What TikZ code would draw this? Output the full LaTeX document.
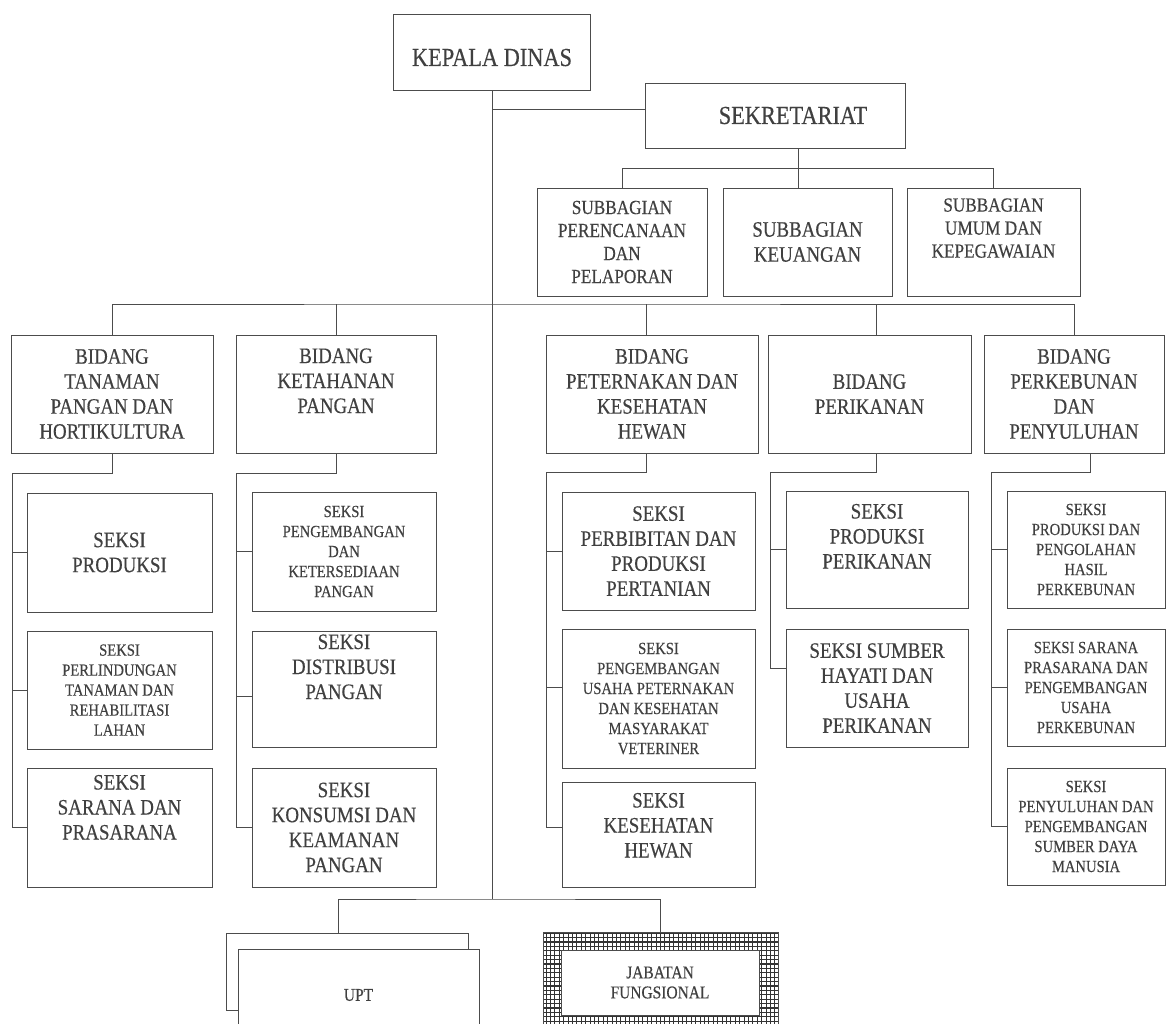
\documentclass[tikz,border=0pt]{standalone}
\usepackage{fontspec}
\setmainfont{Liberation Serif}[FakeStretch=0.86, FakeBold=0.4]
\newcommand\naik[2]{\raisebox{#1}[\height][\depth]{\begin{tabular}{@{}c@{}}#2\end{tabular}}}

\begin{document}
\begin{tikzpicture}[x=1pt, y=-1pt,
  kotak/.style={draw=black!70, line width=0.9pt, align=center, inner sep=2pt, text=black!75},
  garis/.style={draw=black!70, line width=0.9pt},
  hurufL/.style={font=\fontsize{26}{30}\selectfont},
  hurufM/.style={font=\fontsize{22}{25}\selectfont},
  hurufS/.style={font=\fontsize{20}{23}\selectfont},
  hurufXS/.style={font=\fontsize{17}{20}\selectfont},
  hurufJ/.style={font=\fontsize{18}{20}\selectfont},
  kisi/.style={path picture={\draw[black!80, line width=1.1pt, step=4.4pt]
      (path picture bounding box.south west) grid (path picture bounding box.north east);}}]
  \useasboundingbox (0,0) rectangle (1169,1024);
  \clip (0,0) rectangle (1169,1024);

  % Kepala dinas and sekretariat
  \node[kotak, hurufL, minimum width=197, minimum height=76] (kadis) at (492,52) {\naik{-8pt}{KEPALA DINAS}};
  \node[kotak, hurufL, minimum width=260, minimum height=65] (sekre) at (775,115.5) {\hspace*{36pt}SEKRETARIAT};

  % Subbagian
  \node[kotak, hurufS, minimum width=170, minimum height=108] (sbPer) at (622,242) {SUBBAGIAN\\PERENCANAAN\\DAN\\PELAPORAN};
  \node[kotak, hurufM, minimum width=169, minimum height=108] (sbKeu) at (807.5,242) {SUBBAGIAN\\KEUANGAN};
  \node[kotak, hurufS, minimum width=173, minimum height=108] (sbUmum) at (993.5,242) {\naik{12pt}{SUBBAGIAN\\UMUM DAN\\KEPEGAWAIAN}};

  % Bidang
  \node[kotak, hurufM, minimum width=202, minimum height=118] (bTan) at (112,394) {BIDANG\\TANAMAN\\PANGAN DAN\\HORTIKULTURA};
  \node[kotak, hurufM, minimum width=200, minimum height=118] (bKet) at (336,394) {\naik{11pt}{BIDANG\\KETAHANAN\\PANGAN}};
  \node[kotak, hurufM, minimum width=212, minimum height=118] (bPet) at (652,394) {BIDANG\\PETERNAKAN DAN\\KESEHATAN\\HEWAN};
  \node[kotak, hurufM, minimum width=203, minimum height=118] (bIkan) at (869.5,394) {BIDANG\\PERIKANAN};
  \node[kotak, hurufM, minimum width=180, minimum height=118] (bKebun) at (1074,394) {BIDANG\\PERKEBUNAN\\DAN\\PENYULUHAN};

  % Seksi under tanaman pangan
  \node[kotak, hurufM, minimum width=185, minimum height=119] (sTan1) at (119.5,552.5) {SEKSI\\PRODUKSI};
  \node[kotak, hurufXS, minimum width=185, minimum height=118] (sTan2) at (119.5,690) {SEKSI\\PERLINDUNGAN\\TANAMAN DAN\\REHABILITASI\\LAHAN};
  \node[kotak, hurufM, minimum width=185, minimum height=119] (sTan3) at (119.5,827.5) {\naik{18pt}{SEKSI\\SARANA DAN\\PRASARANA}};

  % Seksi under ketahanan pangan
  \node[kotak, hurufXS, minimum width=184, minimum height=119] (sKet1) at (344,551.5) {SEKSI\\PENGEMBANGAN\\DAN\\KETERSEDIAAN\\PANGAN};
  \node[kotak, hurufM, minimum width=184, minimum height=116] (sKet2) at (344,689) {\naik{20pt}{SEKSI\\DISTRIBUSI\\PANGAN}};
  \node[kotak, hurufM, minimum width=184, minimum height=119] (sKet3) at (344,827.5) {SEKSI\\KONSUMSI DAN\\KEAMANAN\\PANGAN};

  % Seksi under peternakan
  \node[kotak, hurufM, minimum width=193, minimum height=118] (sPet1) at (658.5,551) {SEKSI\\PERBIBITAN DAN\\PRODUKSI\\PERTANIAN};
  \node[kotak, hurufXS, minimum width=193, minimum height=139] (sPet2) at (658.5,698.5) {SEKSI\\PENGEMBANGAN\\USAHA PETERNAKAN\\DAN KESEHATAN\\MASYARAKAT\\VETERINER};
  \node[kotak, hurufM, minimum width=193, minimum height=105] (sPet3) at (658.5,834.5) {\naik{7pt}{SEKSI\\KESEHATAN\\HEWAN}};

  % Seksi under perikanan
  \node[kotak, hurufM, minimum width=182, minimum height=117] (sIkan1) at (877,549.5) {\naik{11pt}{SEKSI\\PRODUKSI\\PERIKANAN}};
  \node[kotak, hurufM, minimum width=182, minimum height=118] (sIkan2) at (877,688) {SEKSI SUMBER\\HAYATI DAN\\USAHA\\PERIKANAN};

  % Seksi under perkebunan
  \node[kotak, hurufXS, minimum width=158, minimum height=117] (sKebun1) at (1086,549.5) {SEKSI\\PRODUKSI DAN\\PENGOLAHAN\\HASIL\\PERKEBUNAN};
  \node[kotak, hurufXS, minimum width=158, minimum height=117] (sKebun2) at (1086,687.5) {SEKSI SARANA\\PRASARANA DAN\\PENGEMBANGAN\\USAHA\\PERKEBUNAN};
  \node[kotak, hurufXS, minimum width=158, minimum height=117] (sKebun3) at (1086,826.5) {SEKSI\\PENYULUHAN DAN\\PENGEMBANGAN\\SUMBER DAYA\\MANUSIA};

  % UPT and jabatan fungsional
  \node[kotak, minimum width=242, minimum height=77] (uptBelakang) at (347,971.5) {};
  \node[kotak, hurufJ, fill=white, minimum width=241, minimum height=92] (upt) at (358.5,995) {UPT};
  \node[kotak, kisi, minimum width=235, minimum height=108] (jabLuar) at (660.5,986) {};
  \node[kotak, hurufJ, fill=white, minimum width=198, minimum height=65] (jab) at (660,982.5) {JABATAN\\FUNGSIONAL};

  % Junctions
  \coordinate (sambungSek) at (492,109);
  \coordinate (garisSub) at (622,168);
  \coordinate (garisBidang) at (492,304);
  \coordinate (garisBawah) at (492,899);
  \coordinate (tTan) at (12,473);
  \coordinate (tKet) at (236,473);
  \coordinate (tPet) at (546,472);
  \coordinate (tIkan) at (770,472);
  \coordinate (tKebun) at (991,472);

  % Lines from the top
  \draw[garis] (kadis.south) -- (garisBawah);
  \draw[garis] (sambungSek) -- (sambungSek -| sekre.west);
  \draw[garis] (sbPer.north) -- (garisSub) -| (sbUmum.north);
  \draw[garis] ([xshift=23]sekre.south) -- ([xshift=23]sekre.south |- sbKeu.north);

  % Line to the bidang
  \draw[garis] (bTan.north) |- (garisBidang) -| (bKebun.north);
  \draw[garis] (bKet.north) -- (bKet.north |- garisBidang);
  \draw[garis] ([xshift=-6]bPet.north) -- ([xshift=-6]bPet.north |- garisBidang);
  \draw[garis] ([xshift=7]bIkan.north) -- ([xshift=7]bIkan.north |- garisBidang);

  % Bidang to seksi
  \draw[garis] (bTan.south) |- (tTan) |- (sTan3.west);
  \draw[garis] (sTan1.west) -- (sTan1.west -| tTan);
  \draw[garis] (sTan2.west) -- (sTan2.west -| tTan);
  \draw[garis] (bKet.south) |- (tKet) |- (sKet3.west);
  \draw[garis] (sKet1.west) -- (sKet1.west -| tKet);
  \draw[garis] ([yshift=-7]sKet2.west) -- ([yshift=-7]sKet2.west -| tKet);
  \draw[garis] ([xshift=-6]bPet.south) |- (tPet) |- ([yshift=7]sPet3.west);
  \draw[garis] (sPet1.west) -- (sPet1.west -| tPet);
  \draw[garis] ([yshift=11.5]sPet2.west) -- ([yshift=11.5]sPet2.west -| tPet);
  \draw[garis] ([xshift=7]bIkan.south) |- (tIkan) |- ([yshift=20]sIkan2.west);
  \draw[garis] (sIkan1.west) -- (sIkan1.west -| tIkan);
  \draw[garis] ([xshift=16]bKebun.south) |- (tKebun) |- (sKebun3.west);
  \draw[garis] (sKebun1.west) -- (sKebun1.west -| tKebun);
  \draw[garis] (sKebun2.west) -- (sKebun2.west -| tKebun);

  % Bottom branch
  \draw[garis] ([xshift=-9]uptBelakang.north) |- (garisBawah) -| (jabLuar.north);
\end{tikzpicture}
\end{document}
